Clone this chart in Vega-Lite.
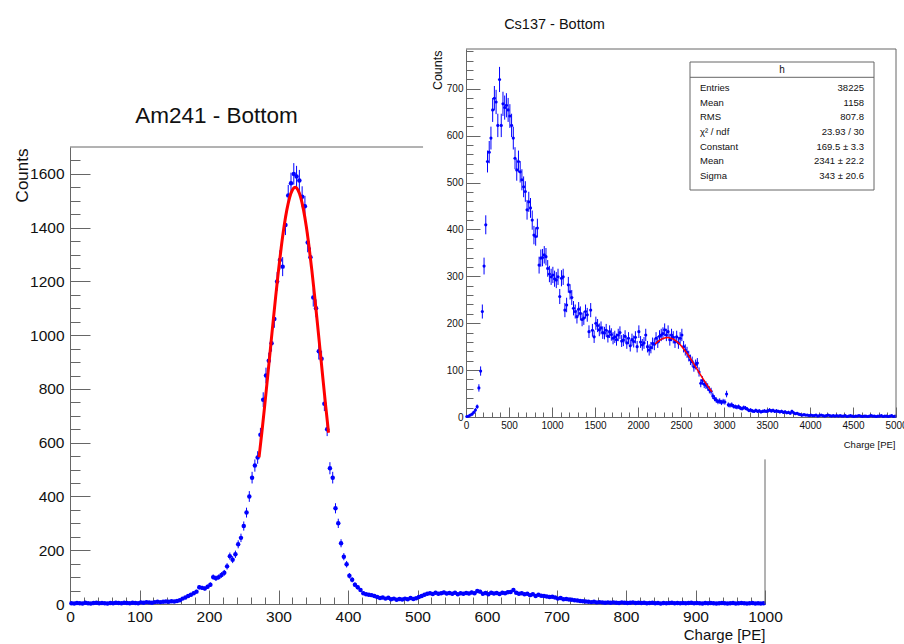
{
"$schema": "https://vega.github.io/schema/vega-lite/v6.json",
"width": 904, "height": 644, "padding": 0, "autosize": {"type": "none"},
"background": "white",
"config": {"view": {"stroke": null}, "font": "Liberation Sans", "axis": {"grid": false, "domainColor": "#666", "tickColor": "#666", "domainWidth": 1, "tickWidth": 1, "labelColor": "#111", "titleColor": "#111", "labelFont": "Liberation Sans", "titleFont": "Liberation Sans", "titleFontWeight": "normal", "labelFlush": false, "labelOverlap": false}},
"datasets": {
"am": [{"x":2,"y":3},{"x":6,"y":2},{"x":10,"y":4},{"x":14,"y":3},{"x":18,"y":2},{"x":22,"y":5},{"x":26,"y":3},{"x":30,"y":2},{"x":34,"y":4},{"x":38,"y":5},{"x":42,"y":3},{"x":46,"y":4},{"x":50,"y":3},{"x":54,"y":2},{"x":58,"y":4},{"x":62,"y":3},{"x":66,"y":5},{"x":70,"y":4},{"x":74,"y":3},{"x":78,"y":5},{"x":82,"y":4},{"x":86,"y":3},{"x":90,"y":5},{"x":94,"y":4},{"x":98,"y":3},
{"x":102,"y":6},{"x":106,"y":5},{"x":110,"y":7},{"x":114,"y":6},{"x":118,"y":5},{"x":122,"y":7},{"x":126,"y":8},{"x":130,"y":7},{"x":134,"y":8},{"x":138,"y":9},{"x":142,"y":8},{"x":146,"y":10},{"x":150,"y":9},{"x":154,"y":11},{"x":158,"y":14},{"x":162,"y":20},{"x":166,"y":24},{"x":170,"y":30},{"x":174,"y":34},{"x":178,"y":40},{"x":182,"y":46},{"x":186,"y":62},{"x":190,"y":60},{"x":194,"y":58},{"x":198,"y":64},
{"x":202,"y":72},{"x":206,"y":100},{"x":210,"y":96},{"x":214,"y":100},{"x":218,"y":108},{"x":222,"y":116},{"x":226,"y":140},{"x":230,"y":178},{"x":234,"y":165},{"x":238,"y":185},{"x":242,"y":222},{"x":246,"y":246},{"x":250,"y":290},{"x":254,"y":340},{"x":258,"y":400},{"x":262,"y":470},{"x":266,"y":515},{"x":270,"y":545},{"x":274,"y":630},{"x":278,"y":760},{"x":282,"y":850},{"x":286,"y":905},{"x":290,"y":970},{"x":294,"y":1060},{"x":298,"y":1200},
{"x":302,"y":1280},{"x":306,"y":1255},{"x":310,"y":1410},{"x":314,"y":1520},{"x":318,"y":1565},{"x":322,"y":1600},{"x":326,"y":1590},{"x":330,"y":1575},{"x":334,"y":1515},{"x":338,"y":1480},{"x":342,"y":1345},{"x":346,"y":1290},{"x":350,"y":1140},{"x":354,"y":1100},{"x":358,"y":940},{"x":362,"y":912},{"x":366,"y":745},{"x":370,"y":650},{"x":374,"y":505},{"x":378,"y":470},{"x":382,"y":356},{"x":386,"y":300},{"x":390,"y":226},{"x":394,"y":176},{"x":398,"y":148},
{"x":402,"y":105},{"x":406,"y":90},{"x":410,"y":72},{"x":414,"y":62},{"x":418,"y":52},{"x":422,"y":40},{"x":426,"y":36},{"x":430,"y":34},{"x":434,"y":33},{"x":438,"y":30},{"x":442,"y":26},{"x":446,"y":22},{"x":450,"y":24},{"x":454,"y":20},{"x":458,"y":23},{"x":462,"y":18},{"x":466,"y":20},{"x":470,"y":16},{"x":474,"y":19},{"x":478,"y":17},{"x":482,"y":20},{"x":486,"y":18},{"x":490,"y":22},{"x":494,"y":19},{"x":498,"y":21},
{"x":502,"y":26},{"x":506,"y":30},{"x":510,"y":34},{"x":514,"y":38},{"x":518,"y":40},{"x":522,"y":37},{"x":526,"y":42},{"x":530,"y":38},{"x":534,"y":40},{"x":538,"y":43},{"x":542,"y":39},{"x":546,"y":41},{"x":550,"y":38},{"x":554,"y":42},{"x":558,"y":36},{"x":562,"y":40},{"x":566,"y":38},{"x":570,"y":41},{"x":574,"y":39},{"x":578,"y":43},{"x":582,"y":40},{"x":586,"y":48},{"x":590,"y":46},{"x":594,"y":38},{"x":598,"y":41},
{"x":602,"y":36},{"x":606,"y":42},{"x":610,"y":39},{"x":614,"y":41},{"x":618,"y":37},{"x":622,"y":42},{"x":626,"y":40},{"x":630,"y":44},{"x":634,"y":45},{"x":638,"y":52},{"x":642,"y":42},{"x":646,"y":38},{"x":650,"y":40},{"x":654,"y":36},{"x":658,"y":38},{"x":662,"y":33},{"x":666,"y":36},{"x":670,"y":30},{"x":674,"y":34},{"x":678,"y":31},{"x":682,"y":30},{"x":686,"y":28},{"x":690,"y":26},{"x":694,"y":27},{"x":698,"y":24},
{"x":702,"y":20},{"x":706,"y":22},{"x":710,"y":18},{"x":714,"y":19},{"x":718,"y":17},{"x":722,"y":16},{"x":726,"y":14},{"x":730,"y":13},{"x":734,"y":11},{"x":738,"y":10},{"x":742,"y":9},{"x":746,"y":8},{"x":750,"y":7},{"x":754,"y":8},{"x":758,"y":6},{"x":762,"y":7},{"x":766,"y":6},{"x":770,"y":5},{"x":774,"y":6},{"x":778,"y":5},{"x":782,"y":6},{"x":786,"y":5},{"x":790,"y":4},{"x":794,"y":6},{"x":798,"y":5},
{"x":802,"y":4},{"x":806,"y":5},{"x":810,"y":6},{"x":814,"y":4},{"x":818,"y":5},{"x":822,"y":4},{"x":826,"y":5},{"x":830,"y":3},{"x":834,"y":4},{"x":838,"y":5},{"x":842,"y":3},{"x":846,"y":4},{"x":850,"y":2},{"x":854,"y":4},{"x":858,"y":3},{"x":862,"y":4},{"x":866,"y":5},{"x":870,"y":3},{"x":874,"y":4},{"x":878,"y":3},{"x":882,"y":4},{"x":886,"y":3},{"x":890,"y":4},{"x":894,"y":5},{"x":898,"y":3},
{"x":902,"y":4},{"x":906,"y":3},{"x":910,"y":2},{"x":914,"y":4},{"x":918,"y":3},{"x":922,"y":4},{"x":926,"y":3},{"x":930,"y":2},{"x":934,"y":3},{"x":938,"y":4},{"x":942,"y":3},{"x":946,"y":2},{"x":950,"y":3},{"x":954,"y":4},{"x":958,"y":2},{"x":962,"y":3},{"x":966,"y":4},{"x":970,"y":3},{"x":974,"y":2},{"x":978,"y":3},{"x":982,"y":4},{"x":986,"y":2},{"x":990,"y":3},{"x":994,"y":2},{"x":998,"y":3}],
"amfit": [{"x":272,"y":546},{"x":276,"y":637},{"x":280,"y":734},{"x":284,"y":836},{"x":288,"y":940},{"x":292,"y":1044},{"x":296,"y":1145},{"x":300,"y":1241},{"x":304,"y":1328},{"x":308,"y":1404},{"x":312,"y":1466},{"x":316,"y":1512},{"x":320,"y":1540},{"x":324,"y":1550},{"x":328,"y":1540},{"x":332,"y":1512},{"x":336,"y":1466},{"x":340,"y":1404},{"x":344,"y":1328},{"x":348,"y":1241},{"x":352,"y":1145},{"x":356,"y":1044},{"x":360,"y":940},{"x":364,"y":836},{"x":368,"y":734},{"x":372,"y":637}],
"cs": [{"x":10,"y":1},{"x":30,"y":2},{"x":50,"y":4},{"x":70,"y":6},{"x":90,"y":10},{"x":110,"y":15},{"x":130,"y":22},{"x":150,"y":62},{"x":170,"y":98},{"x":190,"y":225},{"x":210,"y":322},{"x":230,"y":410},{"x":250,"y":545},{"x":270,"y":565},{"x":290,"y":595},{"x":310,"y":655},{"x":330,"y":680},{"x":350,"y":672},{"x":370,"y":622},{"x":390,"y":720},{"x":410,"y":622},{"x":430,"y":668},{"x":450,"y":660},{"x":470,"y":665},{"x":490,"y":655},
{"x":510,"y":642},{"x":530,"y":622},{"x":550,"y":595},{"x":570,"y":552},{"x":590,"y":527},{"x":610,"y":545},{"x":630,"y":523},{"x":650,"y":506},{"x":670,"y":491},{"x":690,"y":481},{"x":710,"y":442},{"x":730,"y":459},{"x":750,"y":446},{"x":770,"y":420},{"x":790,"y":388},{"x":810,"y":385},{"x":830,"y":403},{"x":850,"y":324},{"x":870,"y":339},{"x":890,"y":340},{"x":910,"y":346},{"x":930,"y":342},{"x":950,"y":317},{"x":970,"y":305},{"x":990,"y":299},
{"x":1010,"y":303},{"x":1030,"y":295},{"x":1050,"y":292},{"x":1070,"y":299},{"x":1090,"y":257},{"x":1110,"y":296},{"x":1130,"y":299},{"x":1150,"y":228},{"x":1170,"y":239},{"x":1190,"y":282},{"x":1210,"y":267},{"x":1230,"y":255},{"x":1250,"y":232},{"x":1270,"y":225},{"x":1290,"y":214},{"x":1310,"y":230},{"x":1330,"y":221},{"x":1350,"y":208},{"x":1370,"y":211},{"x":1390,"y":225},{"x":1410,"y":218},{"x":1430,"y":182},{"x":1450,"y":228},{"x":1470,"y":185},{"x":1490,"y":171},
{"x":1510,"y":200},{"x":1530,"y":195},{"x":1550,"y":186},{"x":1570,"y":190},{"x":1590,"y":180},{"x":1610,"y":179},{"x":1630,"y":185},{"x":1650,"y":172},{"x":1670,"y":182},{"x":1690,"y":176},{"x":1710,"y":168},{"x":1730,"y":171},{"x":1750,"y":165},{"x":1770,"y":175},{"x":1790,"y":180},{"x":1810,"y":162},{"x":1830,"y":164},{"x":1850,"y":172},{"x":1870,"y":158},{"x":1890,"y":168},{"x":1910,"y":152},{"x":1930,"y":165},{"x":1950,"y":161},{"x":1970,"y":170},{"x":1990,"y":150},
{"x":2010,"y":182},{"x":2030,"y":160},{"x":2050,"y":154},{"x":2070,"y":158},{"x":2090,"y":175},{"x":2110,"y":150},{"x":2130,"y":143},{"x":2150,"y":148},{"x":2170,"y":157},{"x":2190,"y":155},{"x":2210,"y":168},{"x":2230,"y":160},{"x":2250,"y":172},{"x":2270,"y":175},{"x":2290,"y":178},{"x":2310,"y":186},{"x":2330,"y":175},{"x":2350,"y":182},{"x":2370,"y":165},{"x":2390,"y":175},{"x":2410,"y":170},{"x":2430,"y":160},{"x":2450,"y":171},{"x":2470,"y":158},{"x":2490,"y":168},
{"x":2510,"y":175},{"x":2530,"y":150},{"x":2550,"y":143},{"x":2570,"y":138},{"x":2590,"y":130},{"x":2610,"y":122},{"x":2630,"y":118},{"x":2650,"y":107},{"x":2670,"y":112},{"x":2690,"y":115},{"x":2710,"y":96},{"x":2730,"y":72},{"x":2750,"y":78},{"x":2770,"y":70},{"x":2790,"y":68},{"x":2810,"y":64},{"x":2830,"y":58},{"x":2850,"y":55},{"x":2870,"y":45},{"x":2890,"y":40},{"x":2910,"y":36},{"x":2930,"y":33},{"x":2950,"y":34},{"x":2970,"y":31},{"x":2990,"y":33},
{"x":3010,"y":32},{"x":3030,"y":49},{"x":3050,"y":26},{"x":3070,"y":25},{"x":3090,"y":26},{"x":3110,"y":23},{"x":3130,"y":22},{"x":3150,"y":21},{"x":3170,"y":22},{"x":3190,"y":19},{"x":3210,"y":18},{"x":3230,"y":20},{"x":3250,"y":19},{"x":3270,"y":17},{"x":3290,"y":14},{"x":3310,"y":15},{"x":3330,"y":13},{"x":3350,"y":12},{"x":3370,"y":14},{"x":3390,"y":12},{"x":3410,"y":13},{"x":3430,"y":11},{"x":3450,"y":12},{"x":3470,"y":13},{"x":3490,"y":12},
{"x":3510,"y":13},{"x":3530,"y":15},{"x":3550,"y":13},{"x":3570,"y":14},{"x":3590,"y":12},{"x":3610,"y":13},{"x":3630,"y":12},{"x":3650,"y":11},{"x":3670,"y":12},{"x":3690,"y":10},{"x":3710,"y":11},{"x":3730,"y":9},{"x":3750,"y":10},{"x":3770,"y":8},{"x":3790,"y":12},{"x":3810,"y":9},{"x":3830,"y":7},{"x":3850,"y":8},{"x":3870,"y":6},{"x":3890,"y":5},{"x":3910,"y":4},{"x":3930,"y":5},{"x":3950,"y":4},{"x":3970,"y":4},{"x":3990,"y":3},
{"x":4010,"y":4},{"x":4030,"y":3},{"x":4050,"y":3},{"x":4070,"y":4},{"x":4090,"y":2},{"x":4110,"y":3},{"x":4130,"y":4},{"x":4150,"y":3},{"x":4170,"y":2},{"x":4190,"y":3},{"x":4210,"y":4},{"x":4230,"y":3},{"x":4250,"y":2},{"x":4270,"y":3},{"x":4290,"y":2},{"x":4310,"y":3},{"x":4330,"y":2},{"x":4350,"y":3},{"x":4370,"y":2},{"x":4390,"y":2},{"x":4410,"y":3},{"x":4430,"y":1},{"x":4450,"y":2},{"x":4470,"y":3},{"x":4490,"y":2},
{"x":4510,"y":1},{"x":4530,"y":2},{"x":4550,"y":2},{"x":4570,"y":3},{"x":4590,"y":2},{"x":4610,"y":1},{"x":4630,"y":2},{"x":4650,"y":2},{"x":4670,"y":1},{"x":4690,"y":2},{"x":4710,"y":3},{"x":4730,"y":2},{"x":4750,"y":2},{"x":4770,"y":1},{"x":4790,"y":2},{"x":4810,"y":2},{"x":4830,"y":3},{"x":4850,"y":1},{"x":4870,"y":2},{"x":4890,"y":2},{"x":4910,"y":1},{"x":4930,"y":2},{"x":4950,"y":3},{"x":4970,"y":1},{"x":4990,"y":2}],
"csfit": [{"x":2200,"y":155.8},{"x":2240,"y":162.3},{"x":2280,"y":166.8},{"x":2320,"y":169.2},{"x":2340,"y":169.5},{"x":2360,"y":169.2},{"x":2400,"y":167.0},{"x":2440,"y":162.6},{"x":2480,"y":156.1},{"x":2520,"y":147.9},{"x":2560,"y":138.2},{"x":2600,"y":127.4},{"x":2640,"y":115.9},{"x":2680,"y":104.0},{"x":2720,"y":92.1},{"x":2760,"y":80.4},{"x":2800,"y":69.2},{"x":2840,"y":58.8},{"x":2860,"y":54.0}],
"stats": [{"k":"Entries","name":"Entries","val":"38225"},{"k":"Mean","name":"Mean","val":"1158"},{"k":"RMS","name":"RMS","val":"807.8"},{"k":"chi2","name":"χ² / ndf","val":"23.93 / 30"},{"k":"Constant","name":"Constant","val":"169.5 ± 3.3"},{"k":"Mean2","name":"Mean","val":"2341 ± 22.2"},{"k":"Sigma","name":"Sigma","val":"343 ± 20.6"}]
},
"layer": [
{
"layer": [
{"data": {"name": "am"},
 "mark": {"type": "point", "filled": true, "shape": "circle", "size": 20, "color": "#0000ff", "opacity": 1},
 "encoding": {
  "x": {"field": "x", "type": "quantitative", "scale": {"domain": [0, 1000], "range": [70, 765], "nice": false, "zero": false},
   "axis": {"orient": "top", "offset": -604, "labels": false, "values": [0,20,40,60,80,100,120,140,160,180,200,220,240,260,280,300,320,340,360,380,400,420,440,460,480,500,520,540,560,580,600,620,640,660,680,700,720,740,760,780,800,820,840,860,880,900,920,940,960,980,1000],
    "tickSize": {"condition": {"test": "datum.value % 100 === 0", "value": 14}, "value": 7},
    "title": "Am241 - Bottom", "titleX": 216, "titleY": -482, "titleAlign": "center", "titleBaseline": "alphabetic", "titleAngle": 0, "titleFont": "Liberation Sans", "titleFontSize": 22.5}},
  "y": {"field": "y", "type": "quantitative", "scale": {"domain": [0, 1700], "range": [604, 147], "nice": false, "zero": false},
   "axis": {"orient": "right", "offset": -834, "labels": false, "title": null, "values": [0,50,100,150,200,250,300,350,400,450,500,550,600,650,700,750,800,850,900,950,1000,1050,1100,1150,1200,1250,1300,1350,1400,1450,1500,1550,1600,1650],
    "tickSize": {"condition": {"test": "datum.value % 200 === 0", "value": 20}, "value": 10}}}
 }},
{"data": {"name": "am"},
 "transform": [{"calculate": "datum.y - sqrt(datum.y)", "as": "lo"}, {"calculate": "datum.y + sqrt(datum.y)", "as": "hi"}],
 "mark": {"type": "rule", "color": "#0000ff", "strokeWidth": 1},
 "encoding": {
  "x": {"field": "x", "type": "quantitative",
   "axis": {"orient": "bottom", "offset": -40, "ticks": false, "domain": false, "values": [0,100,200,300,400,500,600,700,800,900,1000], "format": "d", "labelPadding": 5, "labelFontSize": 15.5,
    "title": "Charge [PE]", "titleX": 765, "titleY": 35, "titleAlign": "right", "titleBaseline": "alphabetic", "titleFontSize": 15}},
  "y": {"field": "lo", "type": "quantitative",
   "axis": {"orient": "left", "offset": -70, "ticks": false, "domain": false, "values": [0,200,400,600,800,1000,1200,1400,1600], "format": "d", "labelPadding": 6, "labelFontSize": 15.5,
    "title": "Counts", "titleX": -48, "titleY": 148, "titleAngle": 270, "titleAlign": "right", "titleBaseline": "middle", "titleFont": "Liberation Sans", "titleFontSize": 17}},
  "y2": {"field": "hi"}
 }},
{"data": {"name": "amfit"},
 "mark": {"type": "line", "color": "#ff0000", "strokeWidth": 3, "interpolate": "monotone"},
 "encoding": {"x": {"field": "x", "type": "quantitative", "axis": null}, "y": {"field": "y", "type": "quantitative", "axis": null}}},
{"data": {"values": [{}]},
 "mark": {"type": "rule", "color": "#666", "strokeWidth": 1},
 "encoding": {"x": {"datum": 0, "type": "quantitative", "axis": null}, "x2": {"datum": 508}, "y": {"datum": 1700, "type": "quantitative", "axis": null}}},
{"data": {"values": [{}]},
 "mark": {"type": "rule", "color": "#666", "strokeWidth": 1},
 "encoding": {"x": {"datum": 1000, "type": "quantitative", "axis": null}, "y": {"datum": 0, "type": "quantitative", "axis": null}, "y2": {"datum": 538}}}
],
"resolve": {"axis": {"x": "independent", "y": "independent"}}
},
{
"layer": [
{"data": {"name": "cs"},
 "mark": {"type": "point", "filled": true, "shape": "circle", "size": 10, "color": "#0000ff", "opacity": 1},
 "encoding": {
  "x": {"field": "x", "type": "quantitative", "scale": {"domain": [0, 5000], "range": [466, 896], "nice": false, "zero": false},
   "axis": {"orient": "top", "offset": -417, "labels": false, "values": [0,100,200,300,400,500,600,700,800,900,1000,1100,1200,1300,1400,1500,1600,1700,1800,1900,2000,2100,2200,2300,2400,2500,2600,2700,2800,2900,3000,3100,3200,3300,3400,3500,3600,3700,3800,3900,4000,4100,4200,4300,4400,4500,4600,4700,4800,4900,5000],
    "tickSize": {"condition": {"test": "datum.value % 500 === 0", "value": 10}, "value": 5},
    "title": "Cs137 - Bottom", "titleX": 554, "titleY": -389, "titleAlign": "center", "titleBaseline": "alphabetic", "titleAngle": 0, "titleFontSize": 14.5}},
  "y": {"field": "y", "type": "quantitative", "scale": {"domain": [0, 785], "range": [417, 49], "nice": false, "zero": false},
   "axis": {"orient": "right", "offset": -438, "labels": false, "title": null, "values": [0,20,40,60,80,100,120,140,160,180,200,220,240,260,280,300,320,340,360,380,400,420,440,460,480,500,520,540,560,580,600,620,640,660,680,700,720,740,760,780],
    "tickSize": {"condition": {"test": "datum.value % 100 === 0", "value": 14}, "value": 7}}}
 }},
{"data": {"name": "cs"},
 "transform": [{"calculate": "datum.y - sqrt(datum.y)", "as": "lo"}, {"calculate": "datum.y + sqrt(datum.y)", "as": "hi"}],
 "mark": {"type": "rule", "color": "#0000ff", "strokeWidth": 1},
 "encoding": {
  "x": {"field": "x", "type": "quantitative",
   "axis": {"orient": "bottom", "offset": -227, "ticks": false, "domain": false, "values": [0,500,1000,1500,2000,2500,3000,3500,4000,4500,5000], "format": "d", "labelPadding": 3, "labelFontSize": 10,
    "title": "Charge [PE]", "titleX": 895, "titleY": 30, "titleAlign": "right", "titleBaseline": "alphabetic", "titleFontSize": 9.5}},
  "y": {"field": "lo", "type": "quantitative",
   "axis": {"orient": "left", "offset": -466, "ticks": false, "domain": false, "values": [0,100,200,300,400,500,600,700], "format": "d", "labelPadding": 3, "labelFontSize": 10,
    "title": "Counts", "titleX": -29, "titleY": 50, "titleAngle": 270, "titleAlign": "right", "titleBaseline": "middle", "titleFont": "Liberation Sans", "titleFontSize": 12.5}},
  "y2": {"field": "hi"}
 }},
{"data": {"name": "csfit"},
 "mark": {"type": "line", "color": "#ff0000", "strokeWidth": 1.5, "interpolate": "monotone"},
 "encoding": {"x": {"field": "x", "type": "quantitative", "axis": null}, "y": {"field": "y", "type": "quantitative", "axis": null}}},
{"data": {"values": [{}]},
 "mark": {"type": "rule", "color": "#666", "strokeWidth": 1},
 "encoding": {"x": {"datum": 0, "type": "quantitative", "axis": null}, "x2": {"datum": 5000}, "y": {"datum": 785, "type": "quantitative", "axis": null}}},
{"data": {"values": [{}]},
 "mark": {"type": "rule", "color": "#666", "strokeWidth": 1},
 "encoding": {"x": {"datum": 5000, "type": "quantitative", "axis": null}, "y": {"datum": 0, "type": "quantitative", "axis": null}, "y2": {"datum": 785}}}
],
"resolve": {"axis": {"x": "independent", "y": "independent"}}
},
{
"data": {"name": "stats"},
"layer": [
{"data": {"values": [{}]},
 "mark": {"type": "rect", "fill": "white", "stroke": "#666", "strokeWidth": 1, "xOffset": -10, "x2Offset": 10, "yOffset": -11.7, "y2Offset": 14.3},
 "encoding": {
  "x": {"datum": "L", "type": "nominal", "scale": {"type": "point", "domain": ["L", "C", "R"], "range": [700, 864], "padding": 0}, "axis": null},
  "x2": {"datum": "R"},
  "y": {"datum": "h", "type": "nominal", "scale": {"type": "point", "domain": ["h", "Entries", "Mean", "RMS", "chi2", "Constant", "Mean2", "Sigma"], "range": [73.7, 175.7], "padding": 0}, "axis": null},
  "y2": {"datum": "Sigma"}}},
{"data": {"values": [{}]},
 "mark": {"type": "rule", "color": "#666", "strokeWidth": 1, "xOffset": -10, "x2Offset": 10, "yOffset": 3.6},
 "encoding": {"x": {"datum": "L", "type": "nominal", "axis": null}, "x2": {"datum": "R"}, "y": {"datum": "h", "type": "nominal", "axis": null}}},
{"data": {"values": [{}]},
 "mark": {"type": "text", "text": "h", "font": "Liberation Sans", "fontSize": 10, "color": "#111", "baseline": "middle", "align": "center", "dy": -3.7},
 "encoding": {"x": {"datum": "C", "type": "nominal", "axis": null}, "y": {"datum": "h", "type": "nominal", "axis": null}}},
{"mark": {"type": "text", "font": "Liberation Sans", "fontSize": 9.5, "color": "#111", "baseline": "middle", "align": "left"},
 "encoding": {"x": {"datum": "L", "type": "nominal", "axis": null}, "y": {"field": "k", "type": "nominal", "axis": null}, "text": {"field": "name"}}},
{"mark": {"type": "text", "font": "Liberation Sans", "fontSize": 9.5, "color": "#111", "baseline": "middle", "align": "right"},
 "encoding": {"x": {"datum": "R", "type": "nominal", "axis": null}, "y": {"field": "k", "type": "nominal", "axis": null}, "text": {"field": "val"}}}
]
}
],
"resolve": {"scale": {"x": "independent", "y": "independent"}}
}
